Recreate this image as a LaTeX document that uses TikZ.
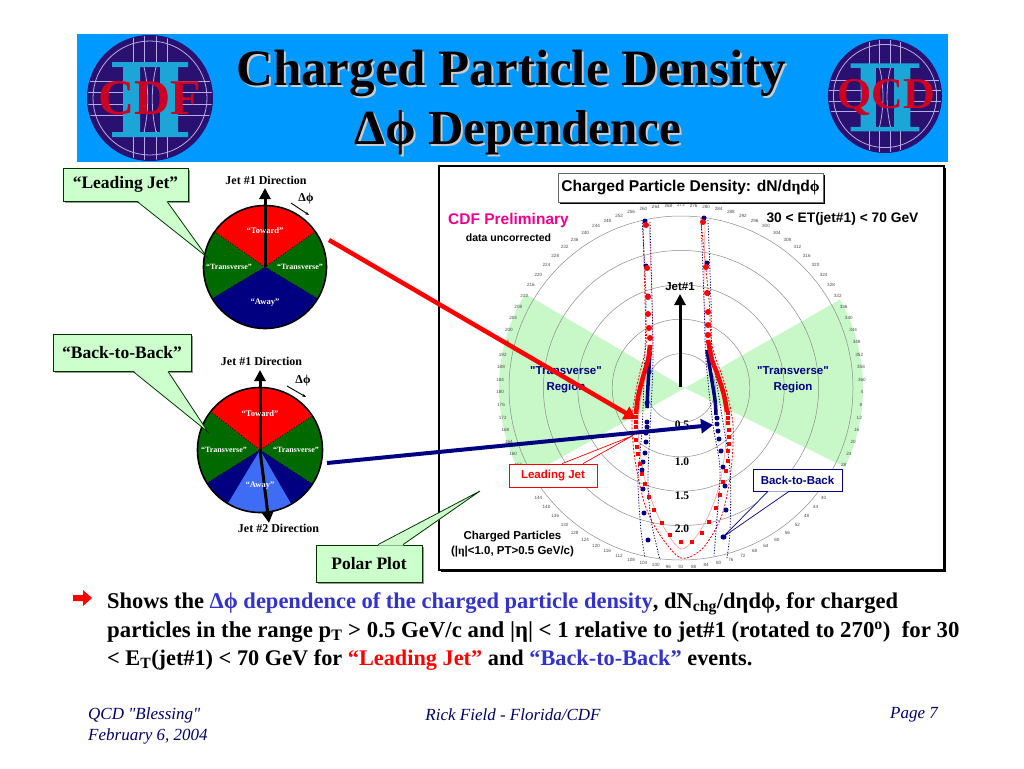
\documentclass[tikz,border=0pt]{standalone}
\usepackage{fontspec}
\setmainfont[Ligatures=TeXOff]{Liberation Serif}
\setsansfont[Ligatures=TeXOff]{Liberation Sans}
\usetikzlibrary{arrows.meta,shadows}
\definecolor{slideblue}{HTML}{0099FF}
\definecolor{logonavy}{HTML}{2A1070}
\definecolor{logoline}{HTML}{B4ACE4}
\definecolor{logoteal}{HTML}{1CA6D8}
\definecolor{logored}{HTML}{CC0022}
\definecolor{paleregion}{HTML}{C8F7C8}
\definecolor{notegreen}{HTML}{CCFFCC}
\definecolor{navy}{HTML}{000080}
\definecolor{piegreen}{HTML}{006A00}
\definecolor{lightaway}{HTML}{3F6CF5}
\definecolor{textblue}{HTML}{3333CC}
\definecolor{footblue}{HTML}{000066}
\tikzset{
  x=1pt, y=-1pt,
  titletext/.style={font=\bfseries\fontsize{#1}{52}\selectfont, inner sep=0pt},
  logotext/.style={font=\bfseries\fontsize{#1}{#1}\selectfont, text=logored, inner sep=0pt},
  notebox/.style={draw=black!80!green, fill=notegreen, line width=.8pt, inner sep=0pt,
    font=\bfseries\fontsize{17.5}{20}\selectfont, drop shadow={shadow xshift=1.5pt, shadow yshift=-1.5pt, fill=gray, opacity=.8}},
  piehead/.style={font=\bfseries\fontsize{12}{13}\selectfont, inner sep=0pt},
  pielabel/.style={font=\bfseries\fontsize{#1}{#1}\selectfont, text=white, inner sep=0pt},
  sansbold/.style={font=\sffamily\bfseries\fontsize{#1}{#1}\selectfont, inner sep=0pt},
  radiuslab/.style={font=\bfseries\fontsize{11.5}{12}\selectfont, inner sep=0pt},
  anglelab/.style={font=\sffamily\fontsize{4.6}{5}\selectfont, text=black!70, inner sep=0pt},
  ringline/.style={draw=black!45, line width=.5pt},
  plotbox/.style={draw=#1, fill=white, text=#1, line width=.7pt, inner sep=0pt, font=\sffamily\bfseries\fontsize{11.5}{12}\selectfont},
  redband/.style={red, line width=.8pt, dash pattern=on 2pt off 1.5pt},
  blueband/.style={navy, line width=.8pt, dash pattern=on 1.2pt off 1.6pt},
  jetarrow/.style={-{Triangle[length=11pt,width=11pt]}, line width=3pt},
  bigarrow/.style={-{Triangle[length=12pt,width=14pt]}, line width=#1},
  para/.style={anchor=base west, inner sep=0pt, font=\bfseries\fontsize{#1}{26}\selectfont},
  foot/.style={inner sep=0pt, text=footblue, font=\itshape\fontsize{17}{19}\selectfont},
  detectorlogo/.pic={
    \fill[logonavy] (0,0) circle (63);
    \begin{scope}
      \clip (0,0) circle (62);
      \foreach \u in {-17,-6,6,17} {
        \draw[logoline, line width=.8pt] (-63,\u) -- (-26,\u);
        \draw[logoline, line width=.8pt] (26,\u) -- (63,\u);
        \draw[logoline, line width=.8pt] (\u,-63) -- (\u,-33);
        \draw[logoline, line width=.8pt] (\u,33) -- (\u,63);
      }
    \end{scope}
    \draw[logoline, line width=.8pt] (0,0) circle (57);
    \fill[logoteal] (-38,-36) rectangle (38,-31) (-38,34) rectangle (38,39)
      (-27,-31) rectangle (-10,34) (10,-31) rectangle (28,34);
    \draw[logoline, line width=.8pt] (-6,-31) .. controls (-1,-10) and (-1,12) .. (-6,34);
    \draw[logoline, line width=.8pt] (6,-31) .. controls (1,-10) and (1,12) .. (6,34);
  }
}
\begin{document}
\begin{tikzpicture}
  \useasboundingbox (0,0) rectangle (1024,768);
  \fill[white] (0,0) rectangle (1024,768);

  % header
  \fill[slideblue] (77,34) rectangle (948,162);
  \pic at (150,98) {detectorlogo};
  \pic[scale=.905] at (885,96) {detectorlogo};
  \node[logotext=50] (cdflogo) at (150,98) {CDF};
  \node[logotext=44] (qcdlogo) at (886,97) {QCD};
  \node[titletext=51, text=black!20] (titleshadea) at (513,75) {Charged Particle Density};
  \node[titletext=51] (titlea) at (511,73) {Charged Particle Density};
  \node[titletext=49, text=black!20] (titleshadeb) at (520,135) {Δϕ Dependence};
  \node[titletext=49] (titleb) at (518,133) {Δϕ Dependence};

  % polar plot
  \node[draw=black, fill=white, line width=2.2pt, minimum width=505pt, minimum height=404pt,
    drop shadow={shadow xshift=2pt, shadow yshift=-1.5pt, fill=black, opacity=1}] (frame) at (691.5,368) {};
  \begin{scope}
    \clip (681,388) circle (182);
    \fill[paleregion] (685,388) -- (485,270) -- (485,500) -- cycle;
    \fill[paleregion] (685,388) -- (885,274) -- (885,487) -- cycle;
  \end{scope}
  \foreach \r in {34.4,68.8,103.2,137.6,172} \draw[ringline] (681,388) circle (\r);
  \foreach \ang in {4,8,...,28,40,44,...,144,156,160,...,360}
    \node[anglelab] (lab\ang) at ({681+181*cos(\ang-2)},{386+181*sin(\ang-2)}) {\ang};

  \draw[redband] plot[smooth] coordinates {(643,222) (645,300) (646,345) (637,385) (632,420) (635,460) (645,505) (660,535) (681,558) (703,548) (722,515) (731,470) (733,425) (725,385) (712,345) (709,300) (701,222)};
  \draw[red!45, line width=.5pt] plot[smooth] coordinates {(649,222) (652,300) (652,350) (642,390) (638,430) (645,480) (660,520) (681,549) (702,528) (718,490) (726,440) (722,395) (708,345) (704,300) (705,222)};
  \draw[blueband] plot[smooth] coordinates {(642,220) (646,300) (644,380) (642,430) (638,480) (641,530) (645,558)};
  \draw[blueband] plot[smooth] coordinates {(650,222) (652,300) (653,360) (650,430) (648,480) (651,520) (660,560)};
  \draw[blueband] plot[smooth] coordinates {(701,218) (704,300) (706,360) (713,425) (720,470) (716,530) (714,556)};
  \draw[blueband] plot[smooth] coordinates {(708,220) (711,300) (712,350) (721,410) (730,470) (730,530) (727,558)};
  \draw[navy, line width=3.5pt] plot[smooth] coordinates {(650,352) (648,385) (647,408)};
  \draw[navy, line width=3.5pt] plot[smooth] coordinates {(707,350) (711,375) (715,400) (716,415)};
  \draw[red, line width=4.5pt] plot[smooth] coordinates {(650,345) (648,360) (643,377) (638,397) (636,414)};
  \draw[red, line width=4.5pt] plot[smooth] coordinates {(708,340) (712,360) (717,373) (724,395) (727,412)};
  \foreach \px/\py in {645/221,646/266,648/296,649/372,647/403,647/422,647/427,646/433,646/442,645/453,643/462,642/470,643/489,644/513,648/540,
    704/218,707/263,708/293,717/418,717/424,718/431,719/439,721/451,723/467,725/486,726/510,724/537}
    \fill[navy] (\px,\py) circle (2.5);
  \foreach \px/\py in {646/225,647/268,648/297,648/314,649/328,650/338,708/335,708/325,708/312,707/293,706/267,703/222}
    \fill[red] (\px,\py) circle (3);
  \foreach \px/\py in {636/417,636/422,636/427,636/440,637/447,638/454,640/464,642/474,645/484,649/497,654/510,662/523,670/535,681/542,692/542,702/533,709/522,716/508,720/495,723/482,726/471,728/461,728/451,729/444,729/437,729/430,728/423,728/418,728/413}
    \fill[red] (\px-2.3,\py-2.3) rectangle (\px+2.3,\py+2.3);

  \draw[jetarrow] (680,387) -- (680,294);
  \node[sansbold=11.5] (jetlab) at (680,287) {Jet\#1};
  \node[radiuslab] (rhalf) at (682,425) {0.5};
  \node[radiuslab] (rone) at (682,462) {1.0};
  \node[radiuslab] (ronehalf) at (682,496) {1.5};
  \node[radiuslab] (rtwo) at (682,529) {2.0};

  \node[draw=black!60, fill=white, line width=.5pt, minimum width=265pt, minimum height=29pt, inner sep=0pt,
    sansbold=15.6, drop shadow={shadow xshift=2pt, shadow yshift=-2pt, fill=black, opacity=1}] (plottitle) at (690.5,187.5)
    {Charged Particle Density: dN/d{\rmfamily\bfseries η}d{\rmfamily\bfseries ϕ}};
  \node[sansbold=15.5, text=magenta] (prelim) at (508.5,220) {CDF Preliminary};
  \node[sansbold=10.5] (uncorr) at (508.5,238) {data uncorrected};
  \node[sansbold=13.8] (etrange) at (842.5,219) {30 < ET(jet\#1) < 70 GeV};
  \node[text=navy, align=center, inner sep=0pt, font=\sffamily\bfseries\fontsize{11.5}{16}\selectfont] (transleft) at (566,380) {"Transverse"\\Region};
  \node[text=navy, align=center, inner sep=0pt, font=\sffamily\bfseries\fontsize{11.5}{16}\selectfont] (transright) at (793,380) {"Transverse"\\Region};
  \node[sansbold=11.5] (chargeda) at (512.5,537) {Charged Particles};
  \node[sansbold=11.5] (chargedb) at (512.5,552) {(|{\rmfamily\bfseries η}|<1.0, PT>0.5 GeV/c)};

  \node[plotbox=red, minimum width=88pt, minimum height=23pt] (leadplot) at (553,475.5) {Leading Jet};
  \node[plotbox=navy, minimum width=89pt, minimum height=22pt] (backplot) at (797.5,480) {Back-to-Back};
  \coordinate (leadplottip) at (632,436);
  \coordinate (backplottip) at (723,537);
  \filldraw[draw=red, fill=white, line width=.7pt] ([xshift=9pt]leadplot.north) -- (leadplottip) -- ([xshift=30pt]leadplot.north);
  \filldraw[draw=navy, fill=white, line width=.7pt] ([xshift=-29.5pt]backplot.south) -- (backplottip) -- ([xshift=-8.5pt]backplot.south);
  \fill[navy] (backplottip) circle (2.5);

  % first wheel
  \begin{scope}[shift={(265,267)}]
    \fill[piegreen] (0,0) circle (61.5);
    \begin{scope}
      \clip (0,0) circle (61.5);
      \fill[red] (0,0) -- (-145:100) -- (-90:100) -- (-35:100) -- cycle;
      \fill[navy] (0,0) -- (31:100) -- (90:100) -- (149:100) -- cycle;
      \draw[dotted, thick] (-145:62) -- (0,0) -- (-35:62) (149:62) -- (0,0) -- (31:62);
    \end{scope}
    \draw[line width=1.6pt] (0,0) circle (61.5);
    \draw[jetarrow] (0,0) -- (0,-79);
    \node[piehead] (leadjetone) at (1,-87) {Jet \#1 Direction};
    \node[piehead] (leaddphi) at (41,-68) {Δϕ};
    \node[pielabel=8.5] (leadtoward) at (0,-36) {“Toward”};
    \node[pielabel=8] (leadtransl) at (-36,0) {“Transverse”};
    \node[pielabel=8] (leadtransr) at (35,0) {“Transverse”};
    \node[pielabel=8.5] (leadaway) at (0,36) {“Away”};
    \coordinate (leadda) at (26,-64);
    \coordinate (leaddb) at (44,-52);
    \draw[-{Stealth[length=4pt]}, line width=.9pt] (leadda) -- (leaddb);
  \end{scope}

  % second wheel
  \begin{scope}[shift={(260,450)}]
    \fill[piegreen] (0,0) circle (62.5);
    \begin{scope}
      \clip (0,0) circle (62.5);
      \fill[red] (0,0) -- (-142:100) -- (-90:100) -- (-33:100) -- cycle;
      \fill[navy] (0,0) -- (33:100) -- (90:100) -- (148:100) -- cycle;
      \fill[lightaway] (0,0) -- (60:100) -- (90:100) -- (121:100) -- cycle;
      \draw[dotted, thick] (-142:63) -- (0,0) -- (-33:63) (148:63) -- (0,0) -- (33:63);
    \end{scope}
    \draw[line width=1.6pt] (0,0) circle (62.5);
    \draw[jetarrow] (0,0) -- (0,-80);
    \draw[jetarrow] (0,0) -- (9,73);
    \node[piehead] (backjetone) at (1.5,-89) {Jet \#1 Direction};
    \node[piehead] (backjettwo) at (18.5,78) {Jet \#2 Direction};
    \node[piehead] (backdphi) at (43,-69) {Δϕ};
    \node[pielabel=8.5] (backtoward) at (0,-36) {“Toward”};
    \node[pielabel=8] (backtransl) at (-36,0) {“Transverse”};
    \node[pielabel=8] (backtransr) at (36,0) {“Transverse”};
    \node[pielabel=8.5] (backaway) at (0,36) {“Away”};
    \coordinate (backda) at (27,-64);
    \coordinate (backdb) at (46,-53);
    \draw[-{Stealth[length=4pt]}, line width=.9pt] (backda) -- (backdb);
  \end{scope}

  % notes with their pointers
  \node[notebox, minimum width=125pt, minimum height=33pt] (leadnote) at (125.5,184.5) {“Leading Jet”};
  \node[notebox, minimum width=138pt, minimum height=37pt] (backnote) at (122,352.5) {“Back-to-Back”};
  \node[notebox, minimum width=106pt, minimum height=37pt] (polarnote) at (369,563.5) {Polar Plot};
  \coordinate (leadtip) at (207,257);
  \coordinate (backtip) at (208,432);
  \coordinate (polartip) at (480,491);
  \foreach \boxname/\dxa/\dxb/\tipname/\side in {leadnote/11.5/41.5/leadtip/south, backnote/11/46/backtip/south} {
    \fill[notegreen] ([xshift=\dxa pt,yshift=1pt]\boxname.\side) -- (\tipname) -- ([xshift=\dxb pt,yshift=1pt]\boxname.\side) -- cycle;
    \draw[black!80!green, line width=.8pt] ([xshift=\dxa pt]\boxname.\side) -- (\tipname) -- ([xshift=\dxb pt]\boxname.\side);
  }
  \fill[notegreen] ([xshift=9pt,yshift=-1pt]polarnote.north) -- (polartip) -- ([xshift=34pt,yshift=-1pt]polarnote.north) -- cycle;
  \draw[black!80!green, line width=.8pt] ([xshift=9pt]polarnote.north) -- (polartip) -- ([xshift=34pt]polarnote.north);

  % long arrows
  \coordinate (redstart) at (329,240);
  \coordinate (bluestart) at (327,463);
  \draw[bigarrow=4.5pt, red] (redstart) -- (636,419);
  \draw[bigarrow=4pt, navy] (bluestart) -- (713,425);

  % text below
  \fill[red] (73,595) -- (83,595) -- (83,590) -- (92,598) -- (83,606) -- (83,601) -- (73,601) -- cycle;
  \node[para=22.5] (parta) at (107,608) {Shows the {\color{textblue}Δϕ dependence of the charged particle density}, dN\textsubscript{chg}/dηdϕ, for charged};
  \node[para=22.8] (partb) at (107,637) {particles in the range p\textsubscript{T} > 0.5 GeV/c and |η| < 1 relative to jet\#1 (rotated to 270\textsuperscript{o})\ \ for 30};
  \node[para=22.3] (partc) at (107,665) {< E\textsubscript{T}(jet\#1) < 70 GeV for {\color{red}“Leading Jet”} and {\color{textblue}“Back-to-Back”} events.};

  \node[foot, anchor=west] (footdate) at (88,715) {QCD "Blessing"};
  \node[foot, anchor=west] (footday) at (88,736) {February 6, 2004};
  \node[foot] (footname) at (513,715) {Rick Field - Florida/CDF};
  \node[foot, anchor=east] (footpage) at (938,715) {Page 7};
\end{tikzpicture}
\end{document}
